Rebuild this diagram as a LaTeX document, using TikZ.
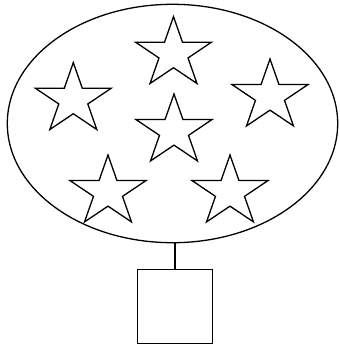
\documentclass[tikz,border=0pt]{standalone}
\usetikzlibrary{shapes.geometric}
\tikzset{
  outline/.style={draw, line width=1.3pt},
  cloud/.style={
    outline,
    ellipse,
    inner sep=0pt,
    minimum width=330.4pt,
    minimum height=238.4pt
  },
  starnode/.style={
    outline,
    star,
    star points=5,
    star point ratio=2.618,
    inner sep=0pt,
    minimum size=74pt,
    xscale=1.08
  },
  box/.style={
    outline,
    rectangle,
    inner sep=0pt,
    minimum size=74.6pt
  }
}

\begin{document}
\begin{tikzpicture}[x=1pt,y=-1pt]
  \useasboundingbox (0,0) rectangle (340,349);

  % The set, drawn as an ellipse.
  \node[cloud] (set) at (172.5,123.5) {};

  % Its members.
  \node[starnode] (s1) at (173.5,53.6) {};
  \node[starnode] (s2) at (73.3,99.6) {};
  \node[starnode] (s3) at (270,96) {};
  \node[starnode] (s4) at (174,131) {};
  \node[starnode] (s5) at (108,192) {};
  \node[starnode] (s6) at (230,192) {};

  % The holder below.
  \node[box] (holder) at (175,306.5) {};
  \draw[line width=1.3pt] (holder.north) -- (holder.north |- set.south);
\end{tikzpicture}
\end{document}
